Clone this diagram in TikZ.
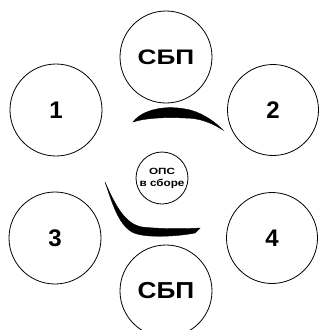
\documentclass[tikz,border=0pt]{standalone}
\usepackage{fontspec}
\setmainfont{Liberation Sans}
\usepackage{graphicx}
\begin{document}
\begin{tikzpicture}[x=1pt,y=-1pt,
  ring/.style={draw=black, line width=0.8pt, circle, inner sep=0pt},
  numtxt/.style={font=\fontsize{24}{24}\selectfont\bfseries},
  sbptxt/.style={font=\fontsize{21}{21}\selectfont\bfseries},
  blade/.style={fill=black, draw=black, line width=0.4pt}]
\useasboundingbox (0,0) rectangle (321,330);
\fill[white] (0,0) rectangle (321,330);
\node[ring, minimum size=92pt, sbptxt] (sbpt) at (166,57) {\scalebox{1.25}[1]{СБП}};
\node[ring, minimum size=92pt, numtxt] (n1) at (56,110) {1};
\node[ring, minimum size=91pt, numtxt] (n2) at (273,110) {2};
\node[ring, minimum size=92pt, numtxt] (n3) at (55,238) {3};
\node[ring, minimum size=91pt, numtxt] (n4) at (272,238) {4};
\node[ring, minimum size=92pt, sbptxt] (sbpb) at (166,291) {\scalebox{1.25}[1.1]{СБП}};
\node[ring, minimum size=52pt, align=center, font=\fontsize{9}{12}\selectfont\bfseries] (ops) at (162,178) {\scalebox{1.3}[1]{ОПС}\\\scalebox{1.3}[1.1]{в сборе}};
% top blade
\path[blade] (133,122) .. controls (142,110) and (165,104) .. (190,110)
  .. controls (205,114) and (216,123) .. (223,130)
  .. controls (212,123) and (200,118) .. (185,118)
  .. controls (165,117) and (145,118) .. cycle;
% bottom-left blade
\path[blade] (105,182) .. controls (112,202) and (118,224) .. (132,232)
  .. controls (145,239) and (180,236) .. (195,233)
  -- (200,228)
  .. controls (185,229) and (160,229) .. (142,227)
  .. controls (125,224) and (115,205) .. cycle;
\end{tikzpicture}
\end{document}
